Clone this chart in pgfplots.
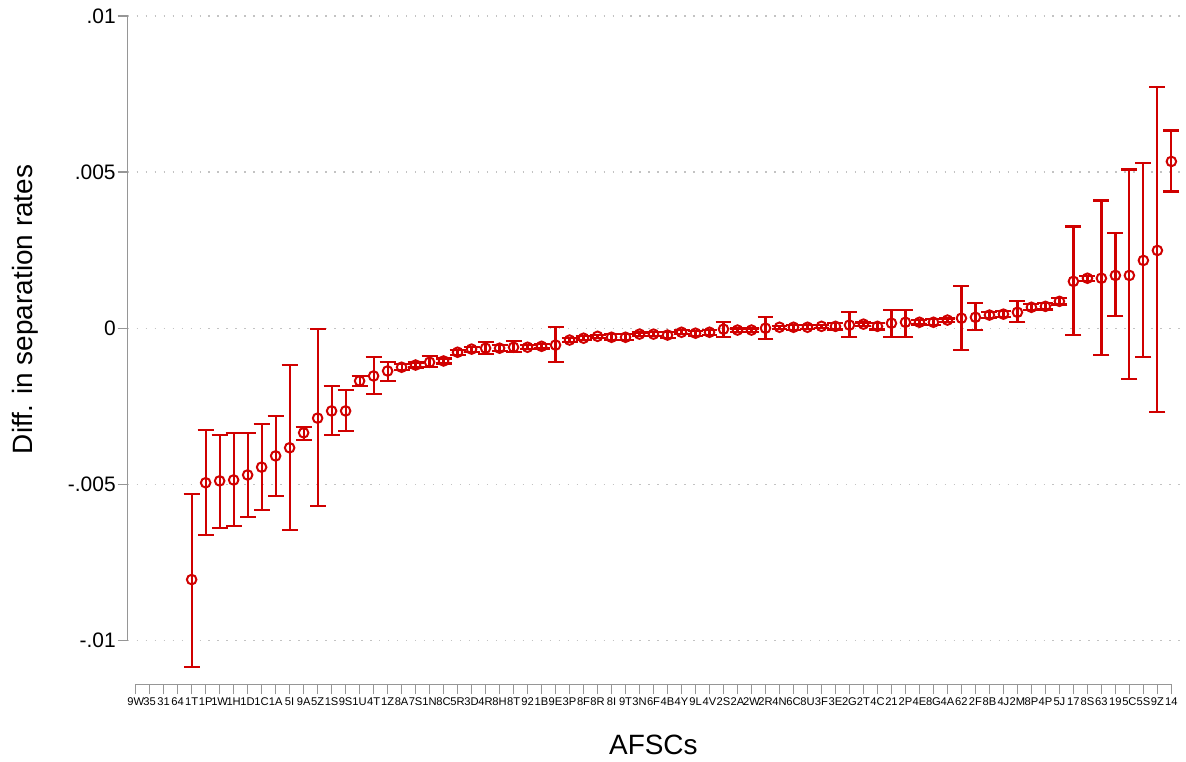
\documentclass[border=0pt]{standalone}
\usepackage{pgfplots}
\pgfplotsset{compat=1.18}
\usepackage{pgfplotstable}
\usepackage{fontspec}
\setmainfont{Liberation Sans}
\definecolor{stred}{RGB}{208,0,0}
\definecolor{axgray}{RGB}{150,150,150}
\definecolor{gridgray}{RGB}{195,195,195}
\pgfplotstableread{
x y lo hi
4 -0.00805 -0.01086 -0.00530
5 -0.00495 -0.00661 -0.00327
6 -0.00489 -0.00639 -0.00342
7 -0.00486 -0.00633 -0.00335
8 -0.00470 -0.00604 -0.00335
9 -0.00445 -0.00581 -0.00307
10 -0.00409 -0.00537 -0.00281
11 -0.00383 -0.00645 -0.00118
12 -0.00335 -0.00358 -0.00316
13 -0.00288 -0.00569 -0.00003
14 -0.00265 -0.00342 -0.00185
15 -0.00265 -0.00329 -0.00198
16 -0.00169 -0.00185 -0.00153
17 -0.00153 -0.00211 -0.00093
18 -0.00137 -0.00169 -0.00109
19 -0.00125 -0.00135 -0.00115
20 -0.00118 -0.00126 -0.00110
21 -0.00109 -0.00125 -0.00089
22 -0.00105 -0.00113 -0.00097
23 -0.00077 -0.00085 -0.00069
24 -0.00067 -0.00075 -0.00059
25 -0.00064 -0.00083 -0.00045
26 -0.00064 -0.00074 -0.00054
27 -0.00061 -0.00077 -0.00042
28 -0.00061 -0.00067 -0.00055
29 -0.00058 -0.00065 -0.00051
30 -0.00054 -0.00109 0.00003
31 -0.00038 -0.00044 -0.00032
32 -0.00032 -0.00039 -0.00025
33 -0.00026 -0.00031 -0.00021
34 -0.00029 -0.00039 -0.00019
35 -0.00029 -0.00039 -0.00019
36 -0.00019 -0.00024 -0.00014
37 -0.00019 -0.00025 -0.00013
38 -0.00022 -0.00032 -0.00012
39 -0.00013 -0.00019 -0.00007
40 -0.00016 -0.00024 -0.00008
41 -0.00013 -0.00021 -0.00005
42 -0.00003 -0.00029 0.00019
43 -0.00006 -0.00011 -0.00001
44 -0.00006 -0.00011 -0.00001
45 0.00000 -0.00035 0.00035
46 0.00003 -0.00002 0.00008
47 0.00003 -0.00005 0.00011
48 0.00003 -0.00003 0.00009
49 0.00006 0.00001 0.00011
50 0.00006 -0.00004 0.00016
51 0.00010 -0.00029 0.00051
52 0.00013 0.00008 0.00018
53 0.00006 -0.00004 0.00016
54 0.00016 -0.00029 0.00058
55 0.00019 -0.00029 0.00058
56 0.00019 0.00012 0.00026
57 0.00019 0.00009 0.00029
58 0.00026 0.00021 0.00031
59 0.00032 -0.00070 0.00134
60 0.00035 -0.00006 0.00080
61 0.00042 0.00032 0.00052
62 0.00045 0.00035 0.00055
63 0.00051 0.00019 0.00086
64 0.00067 0.00057 0.00077
65 0.00070 0.00060 0.00080
66 0.00086 0.00076 0.00096
67 0.00150 -0.00022 0.00326
68 0.00160 0.00152 0.00168
69 0.00160 -0.00086 0.00409
70 0.00169 0.00038 0.00304
71 0.00169 -0.00163 0.00508
72 0.00217 -0.00093 0.00530
73 0.00249 -0.00268 0.00773
74 0.00534 0.00438 0.00633
}\data
\begin{document}
\begin{tikzpicture}
\path (-64pt,-35.5pt) rectangle (529pt,343pt);
\begin{axis}[
  at={(0,0)}, anchor=south west,
  scale only axis, width=528pt, height=335pt,
  xmin=-0.57, xmax=74.7, ymin=-0.011406, ymax=0.01,
  clip=false,
  axis x line*=bottom, axis y line*=left,
  axis line style={draw=none},
  tick align=outside, major tick length=5pt,
  tick style={axgray, line width=0.6pt},
  scaled y ticks=false,
  xtick={0,...,74},
  xticklabels={9W,35,31,64,1T,1P,1W,1H,1D,1C,1A,5I,9A,5Z,1S,9S,1U,4T,1Z,8A,7S,1N,8C,5R,3D,4R,8H,8T,92,1B,9E,3P,8F,8R,8I,9T,3N,6F,4B,4Y,9L,4V,2S,2A,2W,2R,4N,6C,8U,3F,3E,2G,2T,4C,21,2P,4E,8G,4A,62,2F,8B,4J,2M,8P,4P,5J,17,8S,63,19,5C,5S,9Z,14},
  xticklabel style={font=\fontsize{5.6}{6}\selectfont, inner sep=1pt, yshift=-0.5pt},
  ytick={-0.01,-0.005,0,0.005,0.01},
  yticklabels={-.01,-.005,0,.005,.01},
  yticklabel style={font=\fontsize{10.5}{12}\selectfont, xshift=2.5pt},
  ymajorgrids,
  grid style={gridgray, line width=0.6pt, dash pattern=on 0.7pt off 3.8pt},
  xlabel={AFSCs}, ylabel={Diff. in separation rates},
  label style={font=\fontsize{14}{16}\selectfont},
  xlabel style={at={(axis description cs:0.499,-0.09)}, anchor=center},
  ylabel style={at={(axis description cs:-0.097,0.561)}, anchor=center},
]
\addplot[stred, only marks, mark=o, mark size=2.4pt, mark options={line width=1pt, stred},
  error bars/.cd, y dir=both, y explicit,
  error bar style={line width=1.1pt, stred},
  error mark options={rotate=90, mark size=4pt, line width=1.1pt, stred}]
  table[x=x, y=y, y error plus expr=\thisrow{hi}-\thisrow{y}, y error minus expr=\thisrow{y}-\thisrow{lo}] {\data};
\draw[axgray, line width=0.8pt] (axis cs:-0.57,-0.01) -- (axis cs:-0.57,0.01);
\draw[axgray, line width=0.8pt] (axis cs:0,-0.011406) -- (axis cs:74,-0.011406);
\end{axis}
\end{tikzpicture}
\end{document}
